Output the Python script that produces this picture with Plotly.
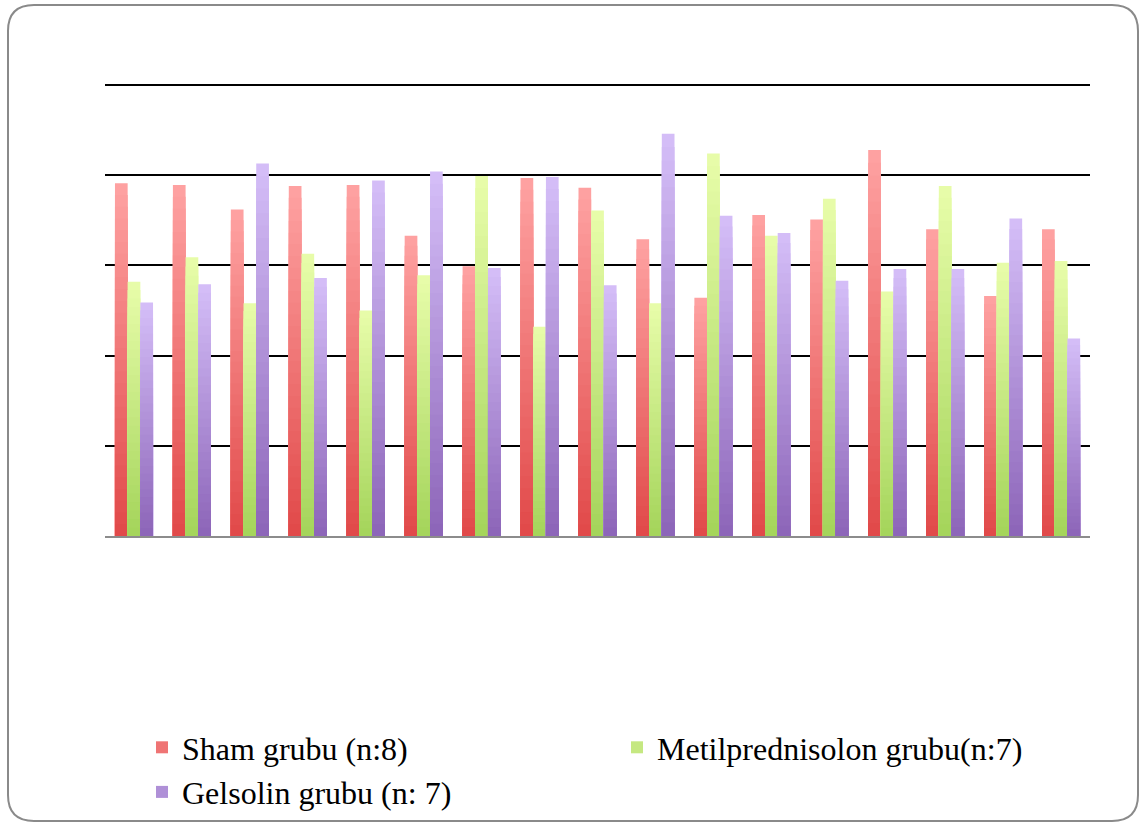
import plotly.graph_objects as go

# Values per animal for each group (17 positions)
positions = [str(i) for i in range(1, 18)]
sham = [3.91, 3.89, 3.62, 3.88, 3.89, 3.33, 2.99, 3.97, 3.86, 3.29, 2.64, 3.56, 3.51, 4.28, 3.40, 2.66, 3.40]
metil = [2.82, 3.09, 2.58, 3.13, 2.50, 2.89, 3.99, 2.32, 3.61, 2.58, 4.24, 3.33, 3.74, 2.71, 3.88, 3.03, 3.05]
gelsolin = [2.59, 2.79, 4.13, 2.86, 3.94, 4.04, 2.97, 3.98, 2.78, 4.46, 3.55, 3.36, 2.83, 2.96, 2.96, 3.52, 2.19]

series_names = ["Sham grubu (n:8)", "Metilprednisolon grubu(n:7)", "Gelsolin grubu (n: 7)"]
series_values = [sham, metil, gelsolin]
# (bottom colour, top colour) of each bar's vertical gradient
series_colors = [((224, 72, 72), (255, 163, 163)),
                 ((164, 212, 90), (232, 253, 170)),
                 ((140, 101, 184), (213, 190, 248))]
bar_width = 0.219
bar_offsets = [-0.328, -0.109, 0.110]
y_max = 5

LAYERS = 30


def mix(c0, c1, t):
    return "rgb({},{},{})".format(*[round(a + (b - a) * t) for a, b in zip(c0, c1)])


fig = go.Figure()
for name, vals, (c_bot, c_top), off in zip(series_names, series_values, series_colors, bar_offsets):
    # Gradient fill: stacked overlays, each shorter and darker than the one beneath
    for k in range(LAYERS):
        f_hi = 1 - k / LAYERS
        f_lo = 1 - (k + 1) / LAYERS
        t = (f_hi + f_lo) / 2
        fig.add_trace(go.Bar(
            x=positions,
            y=[v * f_hi for v in vals],
            width=bar_width,
            offset=off,
            marker=dict(color=mix(c_bot, c_top, t), line=dict(width=0)),
            name=name,
            legendgroup=name,
            showlegend=(k == LAYERS // 2),
            hoverinfo="skip",
        ))

# Rounded frame around the whole chart (pixel corners converted to paper units)
L, R, T, B = 105, 1090, 85, 536


def px(xp):
    return (xp - L) / (R - L)


def py(yp):
    return (B - yp) / (B - T)


x0, x1, y0, y1, r = 8, 1138, 5, 821, 26
frame = (
    f"M {px(x0 + r)},{py(y0)} L {px(x1 - r)},{py(y0)} "
    f"Q {px(x1)},{py(y0)} {px(x1)},{py(y0 + r)} "
    f"L {px(x1)},{py(y1 - r)} Q {px(x1)},{py(y1)} {px(x1 - r)},{py(y1)} "
    f"L {px(x0 + r)},{py(y1)} Q {px(x0)},{py(y1)} {px(x0)},{py(y1 - r)} "
    f"L {px(x0)},{py(y0 + r)} Q {px(x0)},{py(y0)} {px(x0 + r)},{py(y0)} Z"
)

fig.update_layout(
    width=1148,
    height=823,
    margin=dict(l=L, r=1148 - R, t=T, b=823 - B, autoexpand=False),
    paper_bgcolor="white",
    plot_bgcolor="white",
    barmode="overlay",
    font=dict(family="Liberation Serif, Times New Roman, serif", size=32, color="black"),
    showlegend=True,
    legend=dict(
        orientation="h",
        x=px(142),
        xanchor="left",
        y=py(720),
        yanchor="top",
        entrywidth=430,
        traceorder="normal",
        font=dict(size=32),
        bgcolor="rgba(0,0,0,0)",
    ),
    xaxis=dict(
        type="category",
        range=[-0.5, 16.5],
        showticklabels=False,
        ticks="",
        showgrid=False,
        zeroline=False,
        showline=True,
        linecolor="#8c8c8c",
        linewidth=2,
    ),
    yaxis=dict(
        range=[0, y_max],
        tickvals=[1, 2, 3, 4, 5],
        showticklabels=False,
        ticks="",
        showgrid=True,
        gridcolor="black",
        gridwidth=2,
        zeroline=False,
        showline=False,
    ),
    shapes=[
        dict(type="path", xref="paper", yref="paper", path=frame,
             line=dict(color="#8a8a8a", width=2), layer="below"),
        # top gridline sits on the plot edge, so draw it explicitly
        dict(type="line", xref="paper", yref="paper", x0=0, x1=1, y0=1, y1=1,
             line=dict(color="black", width=2), layer="below"),
    ],
)

fig.write_html("out.html")
